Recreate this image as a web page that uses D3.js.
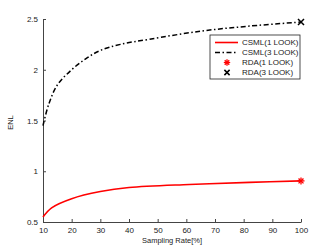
<!DOCTYPE html>
<html>
<head>
<meta charset="utf-8">
<script src="https://cdn.jsdelivr.net/npm/d3@7"></script>
<style>
    body { margin: 0; background: #fff; }
    text { font-family: "Liberation Sans", Arial, sans-serif; }
</style>
</head>
<body>
<div id="chart"></div>
<script>
var rates = [10, 12, 15, 20, 25, 30, 37, 47, 65, 82, 100];
var csml3 = [1.45, 1.66, 1.85, 2.0, 2.11, 2.19, 2.25, 2.3, 2.38, 2.43, 2.47];
var redRates = [10, 13, 20, 30, 40, 61, 82, 100];
var csml1 = [0.55, 0.64, 0.73, 0.8, 0.84, 0.87, 0.89, 0.905];
var rda1 = [[100, 0.905]];
var rda3 = [[100, 2.47]];
var xTicks = [10, 20, 30, 40, 50, 60, 70, 80, 90, 100];
var yTicks = [0.5, 1, 1.5, 2, 2.5];
var legendNames = ["CSML(1 LOOK)", "CSML(3 LOOK)", "RDA(1 LOOK)", "RDA(3 LOOK)"];

function makeChart() {
    var W = 332, H = 250;
    var margin = { top: 19, right: 31, bottom: 28, left: 43 },
        width = W - margin.left - margin.right,
        height = H - margin.top - margin.bottom;

    var svg = d3.select("#chart").append("svg")
        .attr("width", W)
        .attr("height", H)
        .append("g")
        .attr("transform", "translate(" + margin.left + "," + margin.top + ")");

    var x = d3.scaleLinear().domain([10, 100]).range([0, width]);
    var y = d3.scaleLinear().domain([0.5, 2.5]).range([height, 0]);

    var axisColor = "#444";

    var xAxis = svg.append("g")
        .attr("transform", "translate(0," + height + ")")
        .call(d3.axisBottom(x).tickValues(xTicks).tickSizeInner(-3).tickSizeOuter(0).tickPadding(5));
    var yAxis = svg.append("g")
        .call(d3.axisLeft(y).tickValues(yTicks).tickSizeInner(-3).tickSizeOuter(0).tickPadding(5)
            .tickFormat(d3.format("")));

    [xAxis, yAxis].forEach((a) => {
        a.select(".domain").attr("stroke", axisColor);
        a.selectAll(".tick line").attr("stroke", axisColor);
        a.selectAll(".tick text").attr("fill", "#222").style("font-size", "8px");
    });

    svg.append("text")
        .attr("x", width / 2)
        .attr("y", height + 21)
        .attr("text-anchor", "middle")
        .style("font-size", "7.5px")
        .attr("fill", "#222")
        .text("Sampling Rate[%]");

    svg.append("text")
        .attr("transform", "translate(" + (-30) + "," + (y(1.5) + 2) + ") rotate(-90)")
        .attr("text-anchor", "middle")
        .style("font-size", "7.5px")
        .attr("fill", "#222")
        .text("ENL");

    var line = d3.line()
        .x((d) => x(d[0]))
        .y((d) => y(d[1]))
        .curve(d3.curveCatmullRom.alpha(0.5));

    svg.append("path")
        .datum(rates.map((r, i) => [r, csml3[i]]))
        .attr("fill", "none")
        .attr("stroke", "#000")
        .attr("stroke-width", 1.5)
        .attr("stroke-dasharray", "5,2.5,1.5,2.5")
        .attr("d", line);

    svg.append("path")
        .datum(redRates.map((r, i) => [r, csml1[i]]))
        .attr("fill", "none")
        .attr("stroke", "#ff0000")
        .attr("stroke-width", 1.6)
        .attr("d", line);

    function star(g, cx, cy, s) {
        for (var k = 0; k < 4; k++) {
            var a = (k * Math.PI) / 4;
            g.append("line")
                .attr("x1", cx - s * Math.cos(a)).attr("y1", cy - s * Math.sin(a))
                .attr("x2", cx + s * Math.cos(a)).attr("y2", cy + s * Math.sin(a))
                .attr("stroke", "#ff0000").attr("stroke-width", 1.3);
        }
    }
    function cross(g, cx, cy, s) {
        g.append("path")
            .attr("d", "M" + (cx - s) + "," + (cy - s) + "L" + (cx + s) + "," + (cy + s) +
                "M" + (cx - s) + "," + (cy + s) + "L" + (cx + s) + "," + (cy - s))
            .attr("stroke", "#000").attr("stroke-width", 1.5);
    }

    rda1.forEach((d) => star(svg, x(d[0]), y(d[1]), 3.5));
    rda3.forEach((d) => cross(svg, x(d[0]), y(d[1]), 3));

    // legend
    var lg = svg.append("g").attr("transform", "translate(" + (210 - margin.left) + "," + (35 - margin.top) + ")");
    lg.append("rect")
        .attr("width", 90).attr("height", 44)
        .attr("fill", "#fff").attr("stroke", "#222").attr("stroke-width", 0.8);

    legendNames.forEach((name, i) => {
        var ly = 7.5 + i * 10;
        if (i === 0) {
            lg.append("line").attr("x1", 5).attr("x2", 28).attr("y1", ly).attr("y2", ly)
                .attr("stroke", "#ff0000").attr("stroke-width", 1.6);
        } else if (i === 1) {
            lg.append("line").attr("x1", 5).attr("x2", 28).attr("y1", ly).attr("y2", ly)
                .attr("stroke", "#000").attr("stroke-width", 1.5)
                .attr("stroke-dasharray", "5,2.5,1.5,2.5");
        } else if (i === 2) {
            star(lg, 17, ly, 3.2);
        } else {
            cross(lg, 17, ly, 2.6);
        }
        lg.append("text")
            .attr("x", 32).attr("y", ly + 2.8)
            .style("font-size", "8px")
            .attr("fill", "#222")
            .text(name);
    });
}
makeChart();
</script>
</body>
</html>
